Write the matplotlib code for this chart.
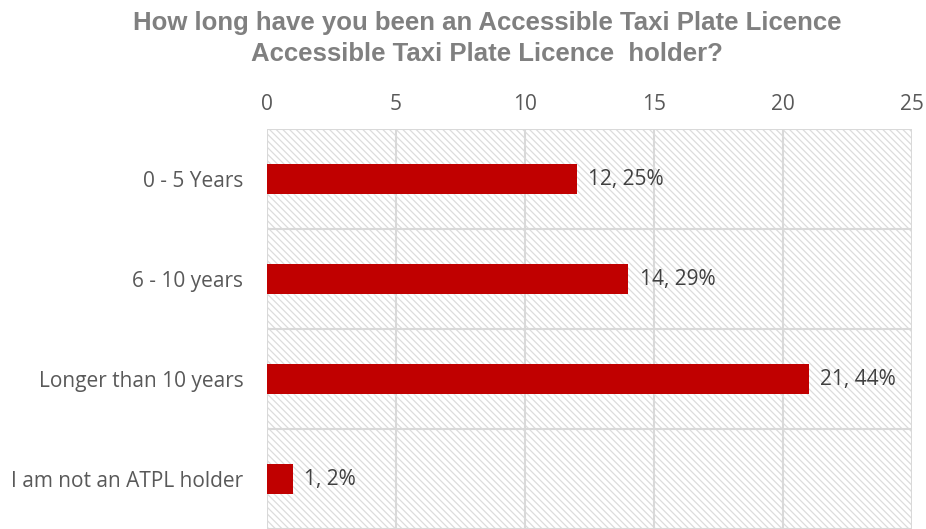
import matplotlib
matplotlib.use("Agg")
import matplotlib.pyplot as plt
from matplotlib.patches import Rectangle

categories = ["0 - 5 Years", "6 - 10 years", "Longer than 10 years", "I am not an ATPL holder"]
counts = [12, 14, 21, 1]
percents = ["25%", "29%", "44%", "2%"]
xticks = [0, 5, 10, 15, 20, 25]
title = "How long have you been an Accessible Taxi Plate Licence\nAccessible Taxi Plate Licence  holder?"

plt.rcParams['hatch.color'] = '#dcdcdc'
plt.rcParams['hatch.linewidth'] = 0.9

fig = plt.figure(figsize=(9.26, 5.29), dpi=100)
ax = fig.add_axes([267/926, 0.0, (912-267)/926, (529-129)/529])

ax.add_patch(Rectangle((0, 0), 1, 1, transform=ax.transAxes, facecolor='white',
                       edgecolor='#dcdcdc', hatch='\\\\\\\\\\', linewidth=0, zorder=0))

y = list(range(len(categories)))
ax.barh(y, counts, height=0.3, color='#c00000', zorder=3)
for yi, c, p in zip(y, counts, percents):
    ax.text(c + 0.45, yi, f"{c}, {p}", va='center', ha='left', fontsize=15,
            color='#404040', family='Open Sans', zorder=4)

ax.set_xlim(0, 25)
ax.set_ylim(len(categories) - 0.5, -0.5)
ax.set_xticks(xticks)
ax.xaxis.tick_top()
ax.set_yticks(y)
ax.set_yticklabels(categories)
ax.set_yticks([i - 0.5 for i in range(len(categories) + 1)], minor=True)
ax.tick_params(axis='both', which='both', length=0, labelsize=15, labelcolor='#595959')
ax.tick_params(axis='x', pad=10)
ax.tick_params(axis='y', pad=17)
for lab in ax.get_xticklabels() + ax.get_yticklabels():
    lab.set_family('Open Sans')
ax.grid(axis='x', which='major', color='#d9d9d9', linewidth=1.5, zorder=1)
ax.grid(axis='y', which='minor', color='#d9d9d9', linewidth=1.5, zorder=1)
ax.grid(axis='y', which='major', visible=False)
ax.set_axisbelow(True)
for s in ax.spines.values():
    s.set_visible(False)

fig.text(0.526, 0.98, title, ha='center', va='top', fontsize=18.5, fontweight='bold',
         color='#808080', family='Liberation Sans', linespacing=1.4)

fig.savefig("out.png", dpi=100)
